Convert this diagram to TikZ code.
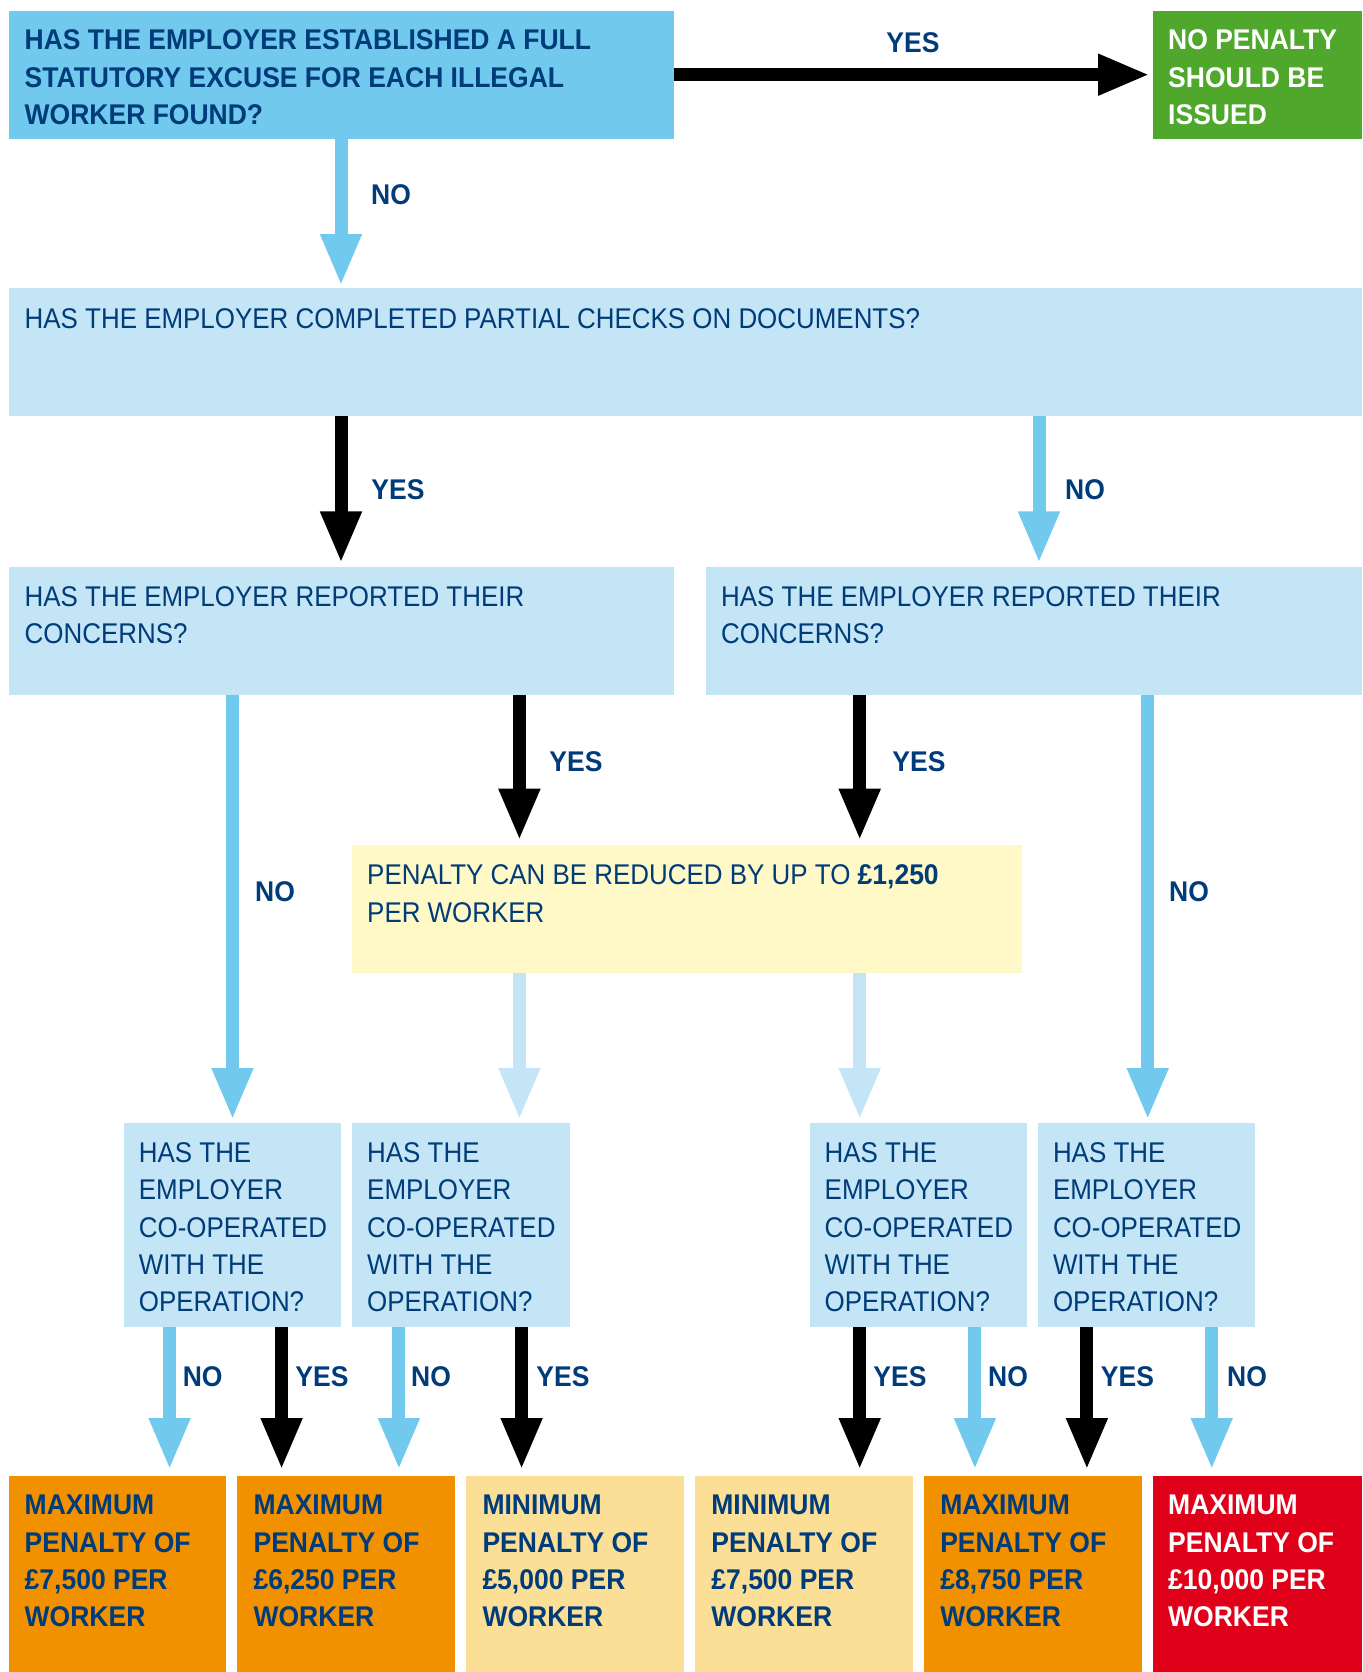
\documentclass[tikz,border=0pt]{standalone}
\usepackage{fontspec}
\setmainfont{Liberation Sans}[FakeStretch=0.91, BoldFeatures={FakeStretch=0.93}]
\usetikzlibrary{arrows.meta}
\definecolor{mblue}{HTML}{72C9EE}
\definecolor{pblue}{HTML}{C3E5F5}
\definecolor{dblue}{HTML}{003B7A}
\definecolor{gbox}{HTML}{4FA82C}
\definecolor{obox}{HTML}{F29100}
\definecolor{lobox}{HTML}{FCDF97}
\definecolor{rbox}{HTML}{E1001A}
\definecolor{ybox}{HTML}{FFF8C7}
\begin{document}
\begin{tikzpicture}[x=1pt,y=-1pt,
  box/.style n args={2}{anchor=north west, inner sep=0pt, outer sep=0pt, minimum width=#1, minimum height=#2},
  txt/.style={anchor=north west, inner sep=0pt, align=left, text=dblue, font=\fontsize{28.5}{37.3}\selectfont},
  btxt/.style={txt, font=\fontsize{28.5}{37.3}\selectfont\bfseries},
  lbl/.style={inner sep=0pt, text=dblue, font=\fontsize{28.5}{37.3}\selectfont\bfseries},
  arr/.style={line width=13pt, -{Triangle[width=38pt,length=52pt]}, shorten >=4pt},
  arrK/.style={arr, draw=black},
  arrM/.style={arr, draw=mblue},
  arrP/.style={arr, draw=pblue},
]
\useasboundingbox (0,0) rectangle (1362,1672);

% ---- boxes ----
\node[box={665.5pt}{128pt}, fill=mblue] (q0) at (8.5,10.7) {};
\node[box={209pt}{128pt}, fill=gbox] (ok) at (1153,10.7) {};
\node[box={1353.5pt}{128pt}, fill=pblue] (q1) at (8.5,288) {};
\node[box={665.5pt}{128pt}, fill=pblue] (q2L) at (8.5,567.4) {};
\node[box={656pt}{128pt}, fill=pblue] (q2R) at (706,567.4) {};
\node[box={670pt}{128pt}, fill=ybox] (red) at (352,844.7) {};
\node[box={217.6pt}{204pt}, fill=pblue] (c1) at (123.7,1123) {};
\node[box={217.6pt}{204pt}, fill=pblue] (c2) at (352,1123) {};
\node[box={217.6pt}{204pt}, fill=pblue] (c3) at (809.5,1123) {};
\node[box={217.6pt}{204pt}, fill=pblue] (c4) at (1037.8,1123) {};
\node[box={217.6pt}{196pt}, fill=obox] (p1) at (8.5,1476) {};
\node[box={217.6pt}{196pt}, fill=obox] (p2) at (237.4,1476) {};
\node[box={217.6pt}{196pt}, fill=lobox] (p3) at (466.3,1476) {};
\node[box={217.6pt}{196pt}, fill=lobox] (p4) at (695.2,1476) {};
\node[box={217.6pt}{196pt}, fill=obox] (p5) at (924.1,1476) {};
\node[box={209pt}{196pt}, fill=rbox] (p6) at (1153,1476) {};

% ---- texts ----
\node[btxt] (q0t) at ([xshift=16pt,yshift=-19pt]q0.north west) {HAS THE EMPLOYER ESTABLISHED A FULL\\STATUTORY EXCUSE FOR EACH ILLEGAL\\WORKER FOUND?};
\node[btxt, text=white] (okt) at ([xshift=15pt,yshift=-19pt]ok.north west) {NO PENALTY\\SHOULD BE\\ISSUED};
\node[txt] (q1t) at ([xshift=16pt,yshift=-20pt]q1.north west) {HAS THE EMPLOYER COMPLETED PARTIAL CHECKS ON DOCUMENTS?};
\node[txt] (q2Lt) at ([xshift=16pt,yshift=-19pt]q2L.north west) {HAS THE EMPLOYER REPORTED THEIR\\CONCERNS?};
\node[txt] (q2Rt) at ([xshift=15pt,yshift=-19pt]q2R.north west) {HAS THE EMPLOYER REPORTED THEIR\\CONCERNS?};
\node[txt] (redt) at ([xshift=15pt,yshift=-20pt]red.north west) {PENALTY CAN BE REDUCED BY UP TO \textbf{£1,250}\\PER WORKER};
\foreach \c in {c1,c2,c3,c4}{
  \node[txt] (\c t) at ([xshift=15pt,yshift=-19.5pt]\c.north west) {HAS THE\\EMPLOYER\\CO-OPERATED\\WITH THE\\OPERATION?};
}
\node[btxt] (p1t) at ([xshift=16pt,yshift=-19pt]p1.north west) {MAXIMUM\\PENALTY OF\\£7,500 PER\\WORKER};
\node[btxt] (p2t) at ([xshift=16pt,yshift=-19pt]p2.north west) {MAXIMUM\\PENALTY OF\\£6,250 PER\\WORKER};
\node[btxt] (p3t) at ([xshift=16pt,yshift=-19pt]p3.north west) {MINIMUM\\PENALTY OF\\£5,000 PER\\WORKER};
\node[btxt] (p4t) at ([xshift=16pt,yshift=-19pt]p4.north west) {MINIMUM\\PENALTY OF\\£7,500 PER\\WORKER};
\node[btxt] (p5t) at ([xshift=16pt,yshift=-19pt]p5.north west) {MAXIMUM\\PENALTY OF\\£8,750 PER\\WORKER};
\node[btxt, text=white] (p6t) at ([xshift=15pt,yshift=-19pt]p6.north west) {MAXIMUM\\PENALTY OF\\£10,000 PER\\WORKER};

% ---- x positions of connectors ----
\coordinate (xa) at (341,0);
\coordinate (xb) at (1039,0);
\coordinate (xc) at (232.5,0);
\coordinate (xd) at (519.4,0);
\coordinate (xe) at (859.7,0);
\coordinate (xf) at (1147.7,0);
\coordinate (g1) at (169.6,0);
\coordinate (g2) at (281.6,0);
\coordinate (g3) at (398.9,0);
\coordinate (g4) at (521.6,0);
\coordinate (g5) at (859.7,0);
\coordinate (g6) at (974.9,0);
\coordinate (g7) at (1086.9,0);
\coordinate (g8) at (1211.7,0);

% ---- connectors ----
\draw[arrK, shorten >=3pt] (q0.east) -- (ok.west);
\draw[arrM, shorten >=2pt] (q0.south -| xa) -- (q1.north -| xa);
\draw[arrK] (q1.south -| xa) -- (q2L.north -| xa);
\draw[arrM] (q1.south -| xb) -- (q2R.north -| xb);
\draw[arrM, shorten >=3pt] (q2L.south -| xc) -- (c1.north -| xc);
\draw[arrK] (q2L.south -| xd) -- (red.north -| xd);
\draw[arrK] (q2R.south -| xe) -- (red.north -| xe);
\draw[arrM, shorten >=3pt] (q2R.south -| xf) -- (c4.north -| xf);
\draw[arrP, shorten >=3pt] (red.south -| xd) -- (c2.north -| xd);
\draw[arrP, shorten >=3pt] (red.south -| xe) -- (c3.north -| xe);
\draw[arrM, shorten >=6pt] (c1.south -| g1) -- (p1.north -| g1);
\draw[arrK, shorten >=6pt] (c1.south -| g2) -- (p2.north -| g2);
\draw[arrM, shorten >=6pt] (c2.south -| g3) -- (p2.north -| g3);
\draw[arrK, shorten >=6pt] (c2.south -| g4) -- (p3.north -| g4);
\draw[arrK, shorten >=6pt] (c3.south -| g5) -- (p4.north -| g5);
\draw[arrM, shorten >=6pt] (c3.south -| g6) -- (p5.north -| g6);
\draw[arrK, shorten >=6pt] (c4.south -| g7) -- (p5.north -| g7);
\draw[arrM, shorten >=6pt] (c4.south -| g8) -- (p6.north -| g8);

% ---- connector labels ----
\node[lbl] (l0) at (913,42.7) {YES};
\node[lbl] (l1) at (391,195) {NO};
\node[lbl] (l2) at (398,489.6) {YES};
\node[lbl] (l3) at (1085,489.6) {NO};
\node[lbl] (l4) at (275,892) {NO};
\node[lbl] (l5) at (576,761.6) {YES};
\node[lbl] (l6) at (919,761.6) {YES};
\node[lbl] (l7) at (1189,892) {NO};
\node[lbl] (m1) at (202.7,1377) {NO};
\node[lbl] (m2) at (322,1377) {YES};
\node[lbl] (m3) at (431,1377) {NO};
\node[lbl] (m4) at (563,1377) {YES};
\node[lbl] (m5) at (900,1377) {YES};
\node[lbl] (m6) at (1008,1377) {NO};
\node[lbl] (m7) at (1127.4,1377) {YES};
\node[lbl] (m8) at (1247,1377) {NO};
\end{tikzpicture}
\end{document}
